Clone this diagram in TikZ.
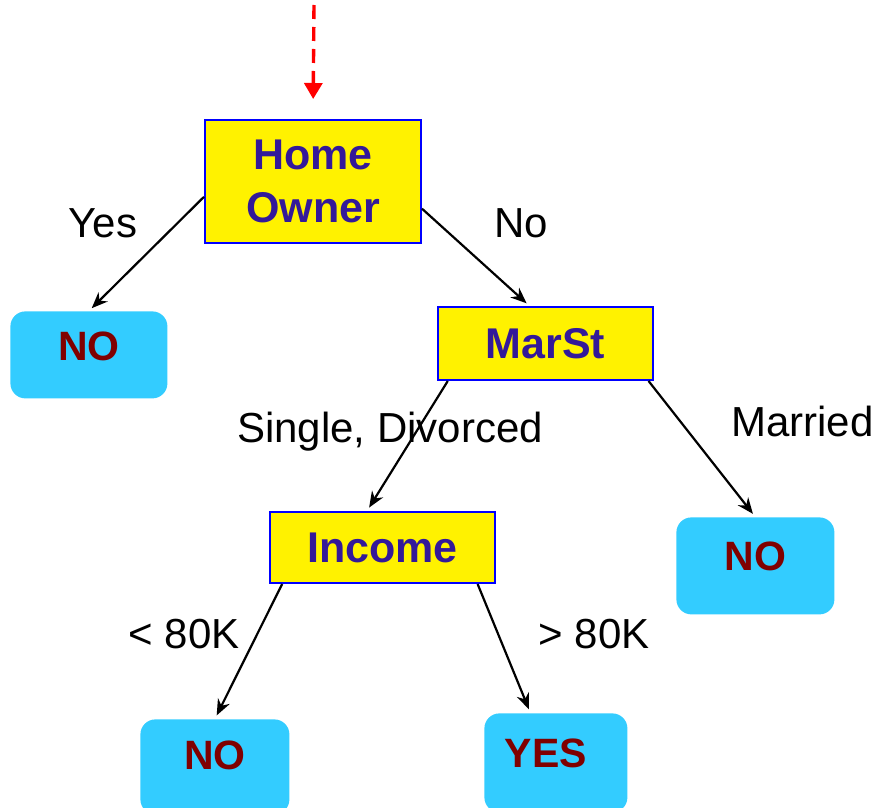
\documentclass[tikz,border=0pt]{standalone}
\usepackage{fontspec}
\setmainfont{Liberation Sans}
\usetikzlibrary{positioning,arrows.meta,calc}
\definecolor{testtext}{RGB}{51,25,153}
\definecolor{leaffill}{RGB}{51,204,255}
\definecolor{leaftext}{RGB}{128,0,0}
\tikzset{
    TestNode/.style={draw=blue, line width=1pt, fill=yellow, rectangle, text=testtext, align=center, inner sep=0pt, font=\fontsize{21.5}{26.5}\selectfont\bfseries},
    LeafNode/.style={rectangle, rounded corners=7.5pt, fill=leaffill, text=leaftext, inner sep=0pt, anchor=north west, font=\fontsize{20.5}{24}\selectfont\bfseries},
    Branch/.style={draw, line width=1.1pt, shorten >=2pt, -{Stealth[length=8pt,width=6.5pt]}},
    Entry/.style={draw=red, line width=1.7pt, dash pattern=on 7pt off 4pt, shorten >=10pt, -{Triangle[length=8pt,width=9pt]}},
    EdgeLabel/.style={anchor=base, font=\fontsize{21}{24}\selectfont}
    }

\begin{document}
\begin{tikzpicture}[x=0.5pt, y=-0.5pt]
\useasboundingbox (0,0) rectangle (880,808);

% test nodes
\node[TestNode, minimum width=108pt, minimum height=61.5pt] (HomeOwner) at (313,181.5) {Home\\Owner};
\node[TestNode, minimum width=107.5pt, minimum height=36.5pt] (MarSt) at (545.5,343.5) {MarSt};
\node[TestNode, minimum width=112.5pt, minimum height=35.5pt] (Income) at (382.5,547.5) {Income};

% leaves
\node[LeafNode, minimum width=78.5pt, text height=24.5pt, text depth=19pt] (LeafHome) at (10,311) {NO};
\node[LeafNode, minimum width=79pt, text height=26.5pt, text depth=22pt] (LeafMarried) at (676,517) {NO};
\node[LeafNode, minimum width=74.5pt, text height=25pt, text depth=22.5pt] (LeafLow) at (140,719) {NO};
\node[LeafNode, minimum width=71.5pt, text height=27pt, text depth=22.5pt] (LeafHigh) at (484,713) {YES\hspace*{10pt}};

% entry arrow
\coordinate (Start) at (314,5);
\draw[Entry] (Start) -- (HomeOwner.north);

% branches
\draw[Branch] (HomeOwner.188.7) -- (LeafHome.north);
\draw[Branch] (HomeOwner.346.7) -- (MarSt.113);
\draw[Branch] (MarSt.201.5) -- (Income.113.6);
\draw[Branch] (MarSt.340) -- (LeafMarried.north);
\draw[Branch] (Income.200.4) -- (LeafLow.north);
\draw[Branch] (Income.339.4) -- (LeafHigh.117.3);

% branch labels
\node[EdgeLabel] (LblYes) at (103,238) {Yes};
\node[EdgeLabel] (LblNo) at (521,238) {No};
\node[EdgeLabel] (LblSingle) at (390,443) {Single, Divorced};
\node[EdgeLabel] (LblMarried) at (802.5,437) {Married};
\node[EdgeLabel] (LblLow) at (184,648) {< 80K};
\node[EdgeLabel] (LblHigh) at (594,648) {> 80K};

\end{tikzpicture}
\end{document}
